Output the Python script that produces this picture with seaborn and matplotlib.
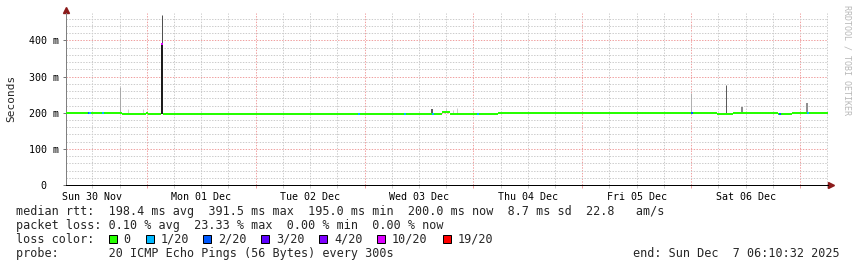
import numpy as np
import pandas as pd
import matplotlib
matplotlib.use("Agg")
import matplotlib.pyplot as plt
import matplotlib.dates as mdates
from matplotlib.ticker import FixedLocator, MultipleLocator, NullFormatter, FuncFormatter
from matplotlib.patches import Rectangle
import seaborn as sns

# ---------------- data ----------------
end_time = pd.Timestamp("2025-12-07 06:10:32")
span_hours = 7 * 24

# median RTT steps: start (hours since graph start) and value (ms)
seg_hours = [0.0, 12.35, 13.67, 17.64, 18.08, 21.05, 21.49, 22.27, 22.93,
             42.77, 56.44, 58.20, 68.12, 82.89, 84.66, 91.71, 95.24,
             143.52, 147.05, 156.97, 160.05]
seg_median_ms = [200.5, 195.5, 197.5, 200.0, 197.5, 391.5, 197.0, 195.5, 197.0,
                 195.5, 197.0, 196.0, 197.0, 201.0, 197.0, 196.0, 200.0,
                 197.0, 200.0, 197.0, 200.0]

# packet-loss episodes (hours since start) and loss level
loss_hours = [4.85, 5.15, 7.94, 21.05, 64.4, 74.5, 80.8, 90.7, 137.7, 157.1, 163.4]
loss_level = ["2/20", "1/20", "1/20", "10/20", "1/20", "1/20", "1/20", "1/20",
              "2/20", "2/20", "1/20"]
loss_step_h = 0.44

# smoke (ping spread) spikes
spike_hours = [11.9, 13.6, 17.0, 21.16, 21.27, 80.8, 83.8, 85.3, 86.1,
               137.8, 145.5, 149.0, 163.4]
spike_low_ms = [200.5, 197.5, 197.5, 197.0, 391.5, 197.0, 201.0, 197.0, 197.0,
                200.0, 200.0, 200.0, 200.0]
spike_high_ms = [270, 209, 210, 391.5, 470, 210, 214, 207, 212, 254, 277, 216, 227]

y_ticks_ms = [0, 100, 200, 300, 400]
y_tick_labels = ["0  ", "100 m", "200 m", "300 m", "400 m"]

loss_names = ["0", "1/20", "2/20", "3/20", "4/20", "10/20", "19/20"]
loss_colors = ["#26ff00", "#00b8ff", "#0059ff", "#5e00ff", "#7e00ff", "#dd00ff", "#ff0000"]

row_median = "median rtt:  198.4 ms avg  391.5 ms max  195.0 ms min  200.0 ms now  8.7 ms sd  22.8   am/s"
row_loss = "packet loss: 0.10 % avg  23.33 % max  0.00 % min  0.00 % now"
row_probe = "probe:       20 ICMP Echo Pings (56 Bytes) every 300s"
end_text = "end: Sun Dec  7 06:10:32 2025"

# ---------------- style ----------------
spike_shade = ['#a8a8a8', '#cfcfcf', '#d0d0d0', '#1c1c1c', '#505050', '#2a2a2a',
               '#cccccc', '#cccccc', '#cccccc', '#b0b0b0', '#5a5a5a', '#8a8a8a', '#909090']
spike_px = [1, 1, 1, 2, 1, 1.5, 1, 1, 1, 1, 1, 2, 2]

W, H = 857, 267
PX = 72 / 100.0  # points per pixel

sns.set_theme(style="white")
plt.rcParams["font.family"] = ["DejaVu Sans Mono", "DejaVu Sans"]
plt.rcParams["lines.solid_capstyle"] = "butt"

start_time = end_time - pd.Timedelta(hours=span_hours)
def t(h):
    return start_time + pd.to_timedelta(h, unit="h")

fig = plt.figure(figsize=(W / 100, H / 100), dpi=100, facecolor="white")
ax = fig.add_axes([66 / W, (H - 185) / H, 762 / W, 172 / H])
ax.set_facecolor("white")

# smoke
ax.vlines([t(h) for h in spike_hours], spike_low_ms, spike_high_ms,
          colors=spike_shade, linewidths=[p * PX for p in spike_px], zorder=3)

# median (loss 0)
seg_end = seg_hours[1:] + [span_hours]
rows = []
for i, (h0, h1, v) in enumerate(zip(seg_hours, seg_end, seg_median_ms)):
    rows.append({"time": t(h0), "ms": v, "seg": i})
    rows.append({"time": t(h1), "ms": v, "seg": i})
df_med = pd.DataFrame(rows)
sns.lineplot(data=df_med, x="time", y="ms", units="seg", estimator=None,
             color=loss_colors[0], linewidth=2 * PX, ax=ax, legend=False, zorder=4)

# median coloured by packet loss
rows = []
for i, (h, lvl) in enumerate(zip(loss_hours, loss_level)):
    k = int(np.searchsorted(seg_hours, h + 1e-6, side="right")) - 1
    v = seg_median_ms[k]
    rows.append({"time": t(h), "ms": v, "seg": i, "loss": lvl})
    rows.append({"time": t(h + loss_step_h), "ms": v, "seg": i, "loss": lvl})
df_loss = pd.DataFrame(rows)
sns.lineplot(data=df_loss, x="time", y="ms", units="seg", estimator=None, hue="loss",
             palette=dict(zip(loss_names, loss_colors)), linewidth=2 * PX,
             ax=ax, legend=False, zorder=5)

# axes / grid
ax.set_xlim(start_time, end_time)
ax.set_ylim(0, 476)
ax.set_xlabel("")
ax.set_ylabel("")

ax.xaxis.set_major_locator(mdates.HourLocator(byhour=[0]))
ax.xaxis.set_minor_locator(mdates.HourLocator(byhour=[6, 12, 18]))
ax.xaxis.set_major_formatter(NullFormatter())
def day_label(x, pos):
    d = mdates.num2date(x)
    return d.strftime("%a %d %b") if d.hour == 12 else ""
ax.xaxis.set_minor_formatter(FuncFormatter(day_label))

ax.yaxis.set_major_locator(FixedLocator(y_ticks_ms))
ax.set_yticklabels(y_tick_labels)
ax.yaxis.set_minor_locator(MultipleLocator(20))

ax.grid(which="major", color="#f0a0a0", linestyle=(0, (1.4, 1.4)), linewidth=PX)
ax.grid(which="minor", color="#cccccc", linestyle=(0, (1.4, 1.4)), linewidth=PX)
ax.set_axisbelow(True)

ax.tick_params(axis="y", which="major", length=2, width=PX, color="#777777",
               pad=3, labelsize=7.2, labelcolor="black", left=True)
ax.tick_params(axis="y", which="minor", length=0)
ax.tick_params(axis="x", which="both", length=2.2, width=PX, bottom=True,
               pad=2.6, labelsize=7.2, labelcolor="black")
ax.tick_params(axis="x", which="major", color="#f0a0a0")
ax.tick_params(axis="x", which="minor", color="#cccccc")

for s in ["top", "right"]:
    ax.spines[s].set_visible(False)
ax.spines["left"].set_color("#808080")
ax.spines["left"].set_linewidth(PX)
ax.spines["bottom"].set_color("black")
ax.spines["bottom"].set_linewidth(PX)

# axis arrows
ax.plot([0, 0], [1, 1.03], transform=ax.transAxes, color="#808080", lw=PX, clip_on=False)
ax.plot([0], [1.017], marker="^", ms=4.5, color="#8b1a1a", transform=ax.transAxes,
        clip_on=False, mec="#8b1a1a")
ax.plot([1, 1.004], [0, 0], transform=ax.transAxes, color="black", lw=PX, clip_on=False)
ax.plot([1.004], [0], marker=">", ms=4.5, color="#8b1a1a", transform=ax.transAxes,
        clip_on=False, mec="#8b1a1a")

# texts
def ftext(x, y, s, **kw):
    return fig.text(x / W, 1 - y / H, s, **kw)

ftext(11, 98, "Seconds", rotation=90, ha="center", va="center", fontsize=8)
ftext(847, 5, "RRDTOOL / TOBI OETIKER", rotation=270, ha="center", va="top",
      fontsize=6, color="#b8b8b8")

FS = 8.45
ftext(16, 215, row_median, ha="left", va="baseline", fontsize=FS)
ftext(16, 229, row_loss, ha="left", va="baseline", fontsize=FS)
ftext(16, 243, "loss color:", ha="left", va="baseline", fontsize=FS)
for x, name, c in zip([108.7, 146, 203.3, 261.3, 319.3, 377, 442.7], loss_names, loss_colors):
    fig.add_artist(Rectangle((x / W, 1 - 243 / H), 8 / W, 8 / H, facecolor=c,
                             edgecolor="black", linewidth=PX, transform=fig.transFigure))
    ftext(x + 15, 243, name, ha="left", va="baseline", fontsize=FS)
ftext(16, 257, row_probe, ha="left", va="baseline", fontsize=FS)
ftext(840, 257, end_text, ha="right", va="baseline", fontsize=FS)

fig.savefig("out.png", dpi=100, facecolor="white")
